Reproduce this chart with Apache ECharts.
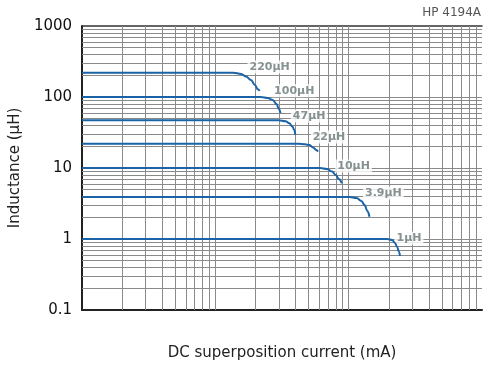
<!DOCTYPE html>
<html><head><meta charset="utf-8">
<script src="https://cdn.jsdelivr.net/npm/echarts/dist/echarts.min.js"></script>
<style>html,body{margin:0;padding:0;background:#fff}#c{width:483px;height:366px}</style>
</head><body><div id="c"></div>
<script>
// ---- data ----
const yTickLabels = ['0.1', '1', '10', '100', '1000'];
const seriesNames = ['220μH', '100μH', '47μH', '22μH', '10μH', '3.9μH', '1μH'];
// DC superposition current (mA) / inductance (μH)
const current220 = [10, 136, 156, 170, 185, 198, 208, 215];
const ind220     = [220, 220, 211, 194, 173, 148, 129, 122];
const current100 = [10, 219, 247, 269, 288, 298, 308];
const ind100     = [100, 100, 96.8, 90.8, 79.7, 68.9, 59.5];
const current47  = [10, 298, 336, 359, 378, 391, 398];
const ind47      = [47, 47, 45.5, 42.6, 38.4, 34.3, 29.2];
const current22  = [10, 419, 472, 506, 541, 570, 589];
const ind22      = [22, 22, 21.6, 21.0, 19.45, 18.0, 17.0];
const current10  = [10, 610, 687, 748, 801, 843, 888];
const ind10      = [10, 10, 9.68, 8.93, 7.96, 7.0, 6.1];
const current3_9 = [10, 1017, 1145, 1247, 1314, 1383, 1432];
const ind3_9     = [3.9, 3.9, 3.78, 3.43, 3.01, 2.48, 2.06];
const current1   = [10, 1945, 2118, 2230, 2307, 2387, 2427];
const ind1       = [1, 1, 0.968, 0.879, 0.771, 0.656, 0.577];
// label anchors (data coordinates: current, inductance)
const labelCurrent = [185, 283, 391, 551, 843, 1360, 2346];
const labelInd     = [265, 122, 54, 27.4, 10.7, 4.44, 1.03];

const curves = [
  [current220, ind220], [current100, ind100], [current47, ind47], [current22, ind22],
  [current10, ind10], [current3_9, ind3_9], [current1, ind1]
];

// grid lines (log minors)
const xGrid = [];
[10, 100, 1000].forEach(d => { for (let k = 2; k <= 10; k++) xGrid.push(d * k); });
const yGrid = [];
[0.1, 1, 10, 100].forEach(d => { for (let k = 2; k <= 10; k++) yGrid.push(+(d * k).toPrecision(6)); });

const gridColor = '#8a8a8a';
const markData = [];
xGrid.forEach(v => { if (v < 10000) markData.push({ xAxis: v }); });
yGrid.forEach(v => { if (v < 1000) markData.push({ yAxis: v }); });

const FONT = 'DejaVu Sans';
const series = [{
  type: 'line', data: [], silent: true, z: 1,
  markLine: {
    z: 1, silent: true, symbol: ['none', 'none'], animation: false,
    label: { show: false },
    lineStyle: { type: 'solid', color: gridColor, width: 1 },
    data: markData
  }
}];
curves.forEach((c, i) => {
  series.push({
    type: 'line', name: seriesNames[i], z: 3,
    data: c[0].map((x, j) => [x, c[1][j]]),
    showSymbol: false, smooth: 0.4, smoothMonotone: 'x',
    lineStyle: { color: '#1a63a6', width: 2 },
    animation: false
  });
});
series.push({
  type: 'scatter', z: 2, symbolSize: 1, itemStyle: { color: 'rgba(0,0,0,0)' },
  animation: false, silent: true,
  data: seriesNames.map((n, i) => ({ name: n, value: [labelCurrent[i], labelInd[i]] })),
  label: {
    show: true, position: 'right', distance: 0, offset: [-4, 0], formatter: p => p.name,
    fontFamily: FONT, fontWeight: 'bold', fontSize: 11, color: '#687575',
    backgroundColor: '#fff', padding: [1, 2]
  }
});

const chart = echarts.init(document.getElementById('c'), null, { renderer: 'canvas' });
chart.setOption({
  animation: false,
  backgroundColor: '#fff',
  textStyle: { fontFamily: FONT },
  grid: { left: 77, right: 1, top: 26, bottom: 56, containLabel: false },
  graphic: [{
    type: 'text', right: 2, top: 7,
    style: { text: 'HP 4194A', fontFamily: FONT, fontSize: 12, fill: '#555' }
  }],
  xAxis: [{
    type: 'log', logBase: 10, min: 10, max: 10000,
    name: 'DC superposition current (mA)', nameLocation: 'middle', nameGap: 36,
    nameTextStyle: { fontFamily: FONT, fontSize: 15, color: '#222' },
    axisLine: { show: true, lineStyle: { color: '#222', width: 2 } },
    axisTick: { show: false }, axisLabel: { show: false },
    splitLine: { show: false }, minorSplitLine: { show: false }
  }, {
    type: 'log', logBase: 10, min: 10, max: 10000, position: 'top',
    axisLine: { show: true, lineStyle: { color: '#333', width: 1.5 } },
    axisTick: { show: false }, axisLabel: { show: false }, splitLine: { show: false }
  }],
  yAxis: {
    type: 'log', logBase: 10, min: 0.1, max: 1000,
    name: 'Inductance (μH)', nameLocation: 'middle', nameGap: 42, nameRotate: 90,
    nameTextStyle: { fontFamily: FONT, fontSize: 15, color: '#222' },
    axisLine: { show: true, lineStyle: { color: '#222', width: 2 } },
    axisTick: { show: false },
    axisLabel: {
      margin: 10, fontFamily: FONT, fontSize: 15, color: '#111',
      formatter: v => yTickLabels.find(t => Math.abs(parseFloat(t) - v) / v < 1e-6) || ''
    },
    splitLine: { show: false }
  },
  series: series
});
</script>
</body></html>
